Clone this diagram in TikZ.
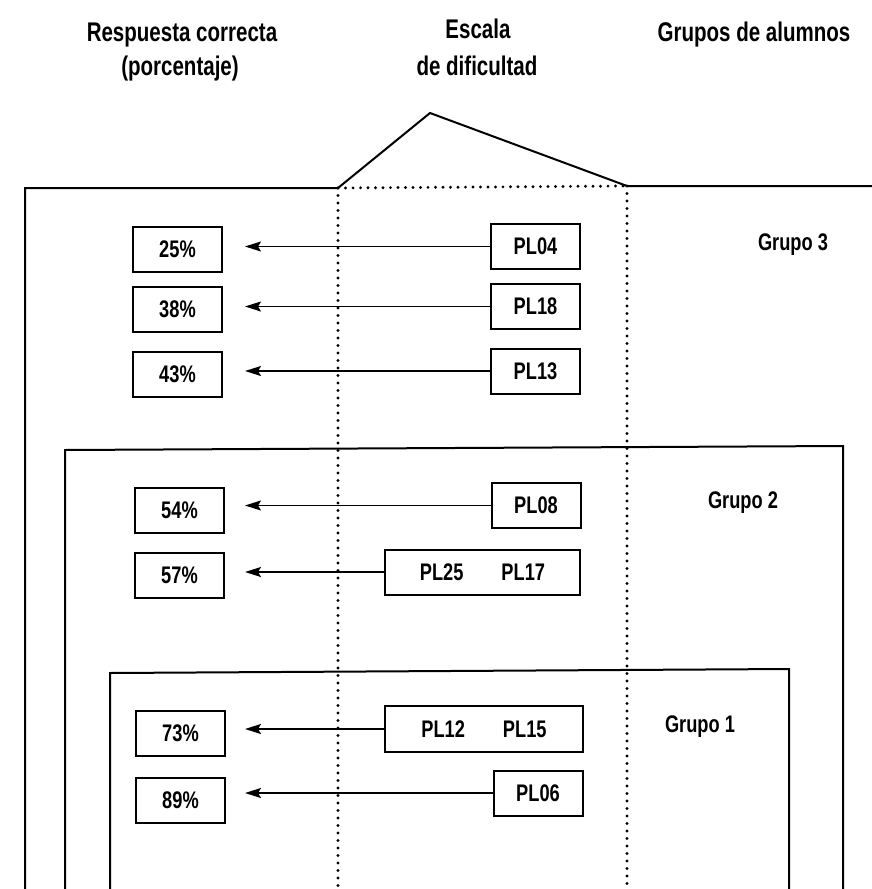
\documentclass[tikz,border=0pt]{standalone}
\usepackage{fontspec}
\setmainfont[FakeStretch=0.76]{Liberation Sans}
\usetikzlibrary{arrows.meta}
\begin{document}
\begin{tikzpicture}[x=1pt, y=-1pt,
    frame/.style={draw=black, line width=2pt},
    dotline/.style={draw=black, line width=3.2pt, line cap=round, dash pattern=on 0pt off 7.5pt},
    arr/.style={draw=black, line width=1.8pt, -{Stealth[length=16pt, width=10pt, inset=3pt]}},
    hdr/.style={anchor=base, inner sep=0pt, font=\fontsize{27}{30}\selectfont\bfseries}]
\useasboundingbox (0,0) rectangle (872,889);
\node[hdr] (h1a) at (182,41) {Respuesta correcta};
\node[hdr] (h1b) at (180,75) {(porcentaje)};
\node[hdr] (h2a) at (478,38) {Escala};
\node[hdr] (h2b) at (477,75) {de dificultad};
\node[hdr] (h3a) at (754,41) {Grupos de alumnos};
\draw[frame] (25,889) -- (25,188) -- (338,188) -- (430,113) -- (627,186) -- (872,186);
\draw[dotline] (338,188) -- (627,186);
\draw[dotline] (338,188) -- (338,889);
\draw[dotline] (627,186) -- (627,889);
\draw[frame] (65,889) -- (65,450) -- (843,446) -- (843,889);
\draw[frame] (110,889) -- (110,673) -- (789,669) -- (789,889);
\begin{scope}[every node/.style={font=\fontsize{24}{26}\selectfont\bfseries}]
    \node (g3) at (793,245) {Grupo 3};
    \node (g2) at (743,503) {Grupo 2};
    \node (g1) at (700,727) {Grupo 1};
\end{scope}
\begin{scope}[every node/.style={draw, line width=2pt, fill=white, inner sep=0pt, minimum width=89pt, minimum height=45pt, font=\fontsize{24}{26}\selectfont\bfseries}]
    \node (p25) at (177.5,249) {25\%};
    \node (p38) at (177.5,309) {38\%};
    \node (p43) at (177.5,374.5) {43\%};
    \node (p54) at (179.5,510.5) {54\%};
    \node (p57) at (179.5,575.5) {57\%};
    \node (p73) at (180.5,733.5) {73\%};
    \node (p89) at (180.5,800) {89\%};
    \node (q04) at (535.5,246.5) {PL04};
    \node (q18) at (535.5,306.5) {PL18};
    \node (q13) at (535.5,371) {PL13};
    \node (q08) at (536,505.5) {PL08};
    \node[minimum width=195pt] (q2517) at (482.5,572) {PL25\hspace{38pt}PL17};
    \node[minimum width=198pt, minimum height=46pt] (q1215) at (484,729) {PL12\hspace{38pt}PL15};
    \node (q06) at (538,793) {PL06};
\end{scope}
\coordinate (tip) at (245,0);
\begin{scope}[every path/.style={arr}]
    \path (q04.west) -- (q04.west -| tip);
    \path (q18.west) -- (q18.west -| tip);
    \path (q13.west) -- (q13.west -| tip);
    \path (q08.west) -- (q08.west -| tip);
    \path (q2517.west) -- (q2517.west -| tip);
    \path (q1215.west) -- (q1215.west -| tip);
    \path (q06.west) -- (q06.west -| tip);
\end{scope}
\end{tikzpicture}
\end{document}
